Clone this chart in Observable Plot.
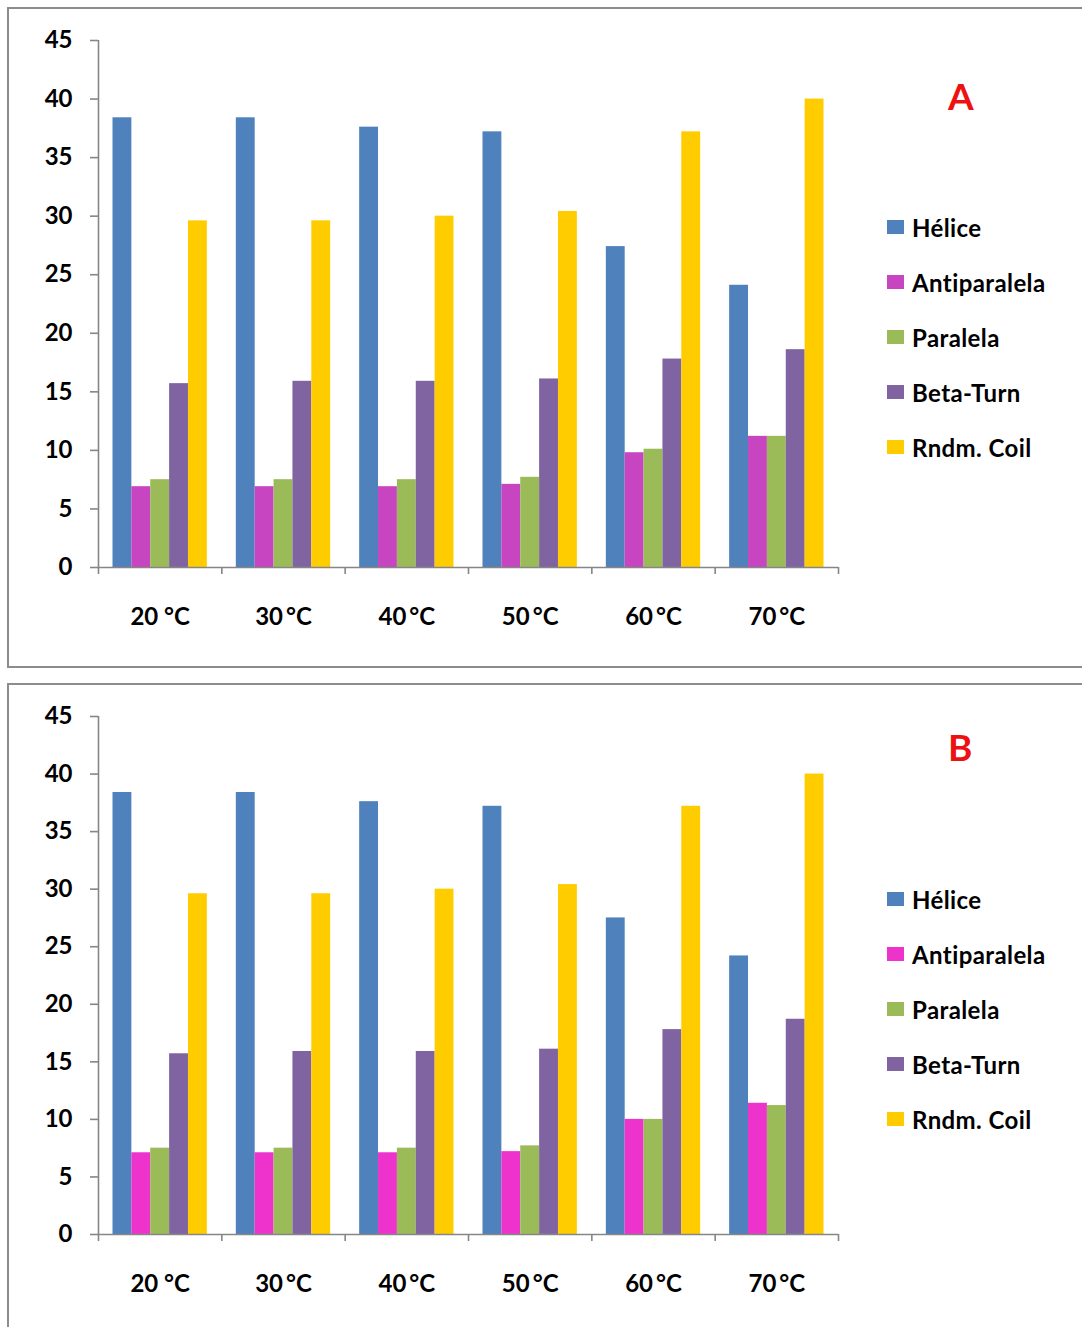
<!DOCTYPE html>
<html>
<head>
<meta charset="utf-8">
<script src="https://cdn.jsdelivr.net/npm/d3@7"></script>
<script src="https://cdn.jsdelivr.net/npm/@observablehq/plot@0.6"></script>
<style>
  html, body { margin: 0; padding: 0; background: #fff; overflow: hidden; }
  #page { position: relative; width: 1082px; height: 1327px; font-family: Lato, "Open Sans", sans-serif; }
  .frame { position: absolute; border: 2px solid #8c8c8c; box-sizing: border-box; }
  .chart { position: absolute; left: 0; }
  .letter { position: absolute; color: #ee1111; font: bold 37px Lato, sans-serif; line-height: 1; }
  .legend { position: absolute; left: 887px; }
  .item { position: absolute; left: 0; display: flex; align-items: center; white-space: nowrap;
          font: bold 24px Lato, sans-serif; color: #000; height: 30px; letter-spacing: 0.4px; }
  .sw { width: 17px; height: 14px; margin-right: 8px; }
</style>
</head>
<body>
<div id="page"></div>
<script>
// ---- data ----
const temps = ["20 °C", "30\u2009°C", "40\u2009°C", "50\u2009°C", "60\u2009°C", "70\u2009°C"];
const series = ["Hélice", "Antiparalela", "Paralela", "Beta-Turn", "Rndm. Coil"];
const yTicks = [0, 5, 10, 15, 20, 25, 30, 35, 40, 45];

const heliceA = [38.4, 38.4, 37.6, 37.2, 27.4, 24.1];
const antiA   = [6.9, 6.9, 6.9, 7.1, 9.8, 11.2];
const paraA   = [7.5, 7.5, 7.5, 7.7, 10.1, 11.2];
const betaA   = [15.7, 15.9, 15.9, 16.1, 17.8, 18.6];
const coilA   = [29.6, 29.6, 30.0, 30.4, 37.2, 40.0];

const heliceB = [38.4, 38.4, 37.6, 37.2, 27.5, 24.2];
const antiB   = [7.1, 7.1, 7.1, 7.2, 10.0, 11.4];
const paraB   = [7.5, 7.5, 7.5, 7.7, 10.0, 11.2];
const betaB   = [15.7, 15.9, 15.9, 16.1, 17.8, 18.7];
const coilB   = [29.6, 29.6, 30.0, 30.4, 37.2, 40.0];

const colorsA = ["#4f81bd", "#c845c2", "#9bbb59", "#8064a2", "#ffcc00"];
const colorsB = ["#4f81bd", "#ee33cc", "#9bbb59", "#8064a2", "#ffcc00"];

// ---- layout ----
const groupFrac = 0.765;                 // share of each category occupied by the bars
const barW = groupFrac / series.length;
const pad = (1 - groupFrac) / 2;
const axisColor = "#868686";

function rows(cols) {
  const out = [];
  temps.forEach((t, i) => {
    series.forEach((s, j) => {
      const x1 = i + pad + j * barW;
      out.push({temp: t, series: s, value: cols[j][i], x1, x2: x1 + barW});
    });
  });
  return out;
}

function chart(data, colors, height) {
  return Plot.plot({
    width: 860,
    height,
    marginLeft: 98,
    marginRight: 22,
    marginTop: 40,
    marginBottom: 93,
    style: {fontFamily: "Lato, 'Open Sans', sans-serif", fontSize: "24px", fontWeight: "bold", color: "#000", background: "transparent"},
    x: {type: "linear", domain: [0, temps.length], axis: null},
    y: {domain: [0, 45], axis: null},
    color: {domain: series, range: colors},
    marks: [
      Plot.rectY(data, {x1: "x1", x2: "x2", y: "value", fill: "series"}),
      Plot.ruleX([0], {y1: 0, y2: 45, stroke: axisColor, strokeWidth: 1.6}),
      Plot.ruleY([0], {x1: 0, x2: temps.length, stroke: axisColor, strokeWidth: 1.6}),
      Plot.axisY({ticks: yTicks, tickSize: 8, tickPadding: 18, label: null, stroke: axisColor, strokeWidth: 1.6, fill: "#000"}),
      Plot.axisX({ticks: d3.range(0, temps.length + 1), tickSize: 7, label: null, tickFormat: () => "", stroke: axisColor, strokeWidth: 1.6}),
      Plot.axisX({ticks: temps.map((d, i) => i + 0.5), tickSize: 0, tickPadding: 40, label: null,
                  tickFormat: d => temps[Math.floor(d)], fill: "#000"})
    ]
  });
}

function legend(colors, top) {
  const lg = document.createElement("div");
  lg.className = "legend";
  lg.style.top = top + "px";
  series.forEach((s, j) => {
    const it = document.createElement("div");
    it.className = "item";
    it.style.top = (j * 55) + "px";
    const sw = document.createElement("div");
    sw.className = "sw";
    sw.style.background = colors[j];
    const tx = document.createElement("span");
    tx.textContent = s;
    it.appendChild(sw);
    it.appendChild(tx);
    lg.appendChild(it);
  });
  return lg;
}

const page = document.getElementById("page");

function panel(top, frameH, chartTop, chartH, cols, colors, letter, letterTop, legendTop) {
  const fr = document.createElement("div");
  fr.className = "frame";
  fr.style.left = "7px";
  fr.style.top = top + "px";
  fr.style.width = "1100px";
  fr.style.height = frameH + "px";
  page.appendChild(fr);

  const c = chart(rows(cols), colors, chartH);
  const wrap = document.createElement("div");
  wrap.className = "chart";
  wrap.style.top = chartTop + "px";
  wrap.appendChild(c);
  page.appendChild(wrap);

  const l = document.createElement("div");
  l.className = "letter";
  l.textContent = letter;
  l.style.left = "948px";
  l.style.top = letterTop + "px";
  page.appendChild(l);

  page.appendChild(legend(colors, legendTop));
}

panel(7, 661, 0, 660, [heliceA, antiA, paraA, betaA, coilA], colorsA, "A", 77, 212);
panel(683, 700, 676, 651, [heliceB, antiB, paraB, betaB, coilB], colorsB, "B", 728, 884);
</script>
</body>
</html>
